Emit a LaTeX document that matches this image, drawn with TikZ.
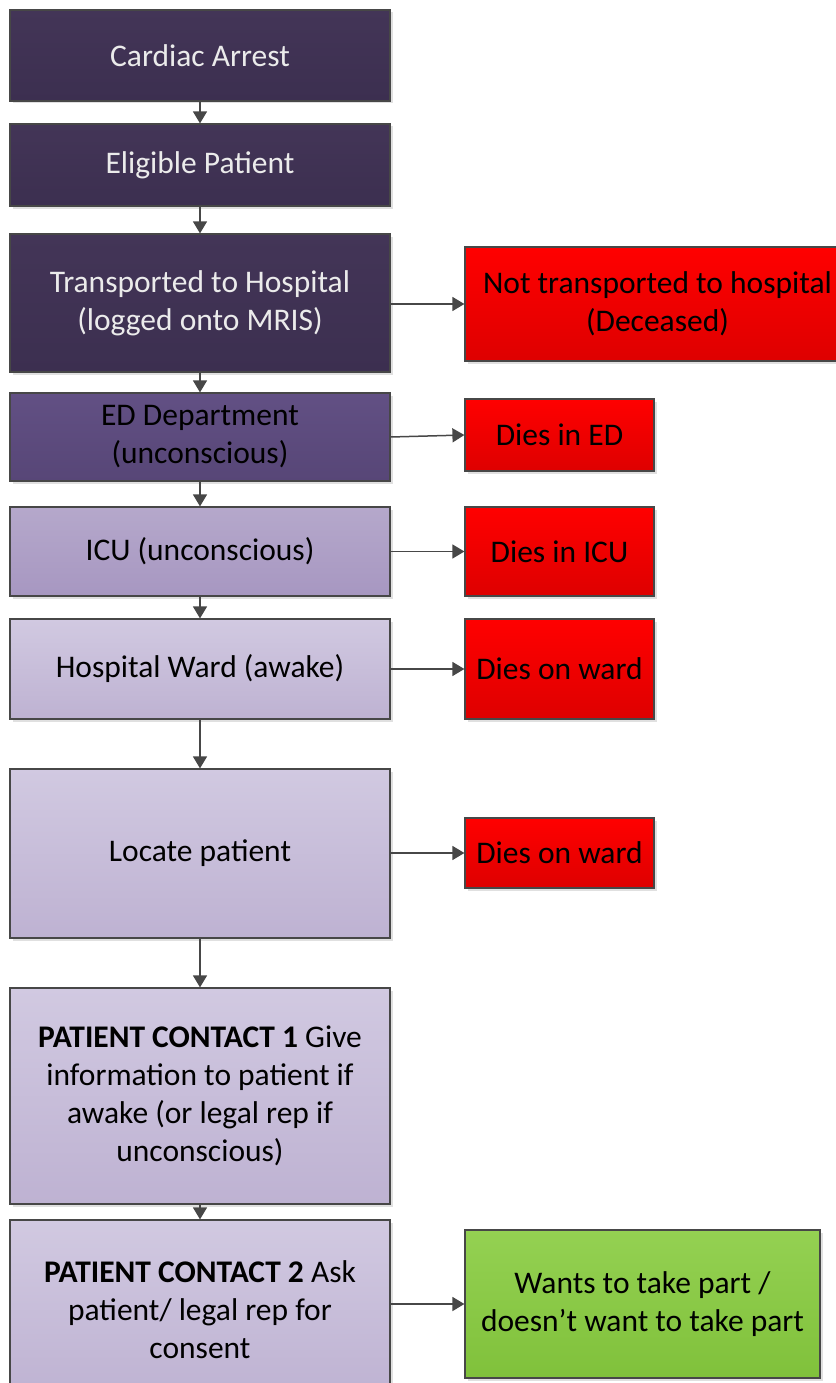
\documentclass[tikz,border=0pt]{standalone}
\usepackage{fontspec}
\setmainfont{Carlito}
\usetikzlibrary{arrows.meta, shadows}
\colorlet{box edge}{black!72}
\definecolor{deep top}{HTML}{433557}
\definecolor{deep bot}{HTML}{3C2F50}
\definecolor{mid top}{HTML}{625084}
\definecolor{mid bot}{HTML}{574677}
\definecolor{icu top}{HTML}{B5A8CB}
\definecolor{icu bot}{HTML}{A797C1}
\definecolor{pale top}{HTML}{D1C9E1}
\definecolor{pale bot}{HTML}{BEB2D2}
\definecolor{red top}{HTML}{FF0000}
\definecolor{red bot}{HTML}{DE0000}
\definecolor{green top}{HTML}{94D152}
\definecolor{green bot}{HTML}{80C13B}
\tikzset{
  box/.style={draw=box edge, line width=1.2pt, inner sep=4pt, align=center,
    font=\fontsize{31.5}{38}\selectfont,
    drop shadow={shadow xshift=2.5pt, shadow yshift=-2.5pt, fill=black!12, opacity=1}},
  stage/.style={box, minimum width=380pt},
  deep/.style={stage, top color=deep top, bottom color=deep bot, text=black!8},
  mid/.style={stage, top color=mid top, bottom color=mid bot},
  icu/.style={stage, top color=icu top, bottom color=icu bot},
  pale/.style={stage, top color=pale top, bottom color=pale bot},
  dead/.style={box, top color=red top, bottom color=red bot},
  choice/.style={box, top color=green top, bottom color=green bot},
  flow/.style={draw=black!72, line width=1.5pt, -{Triangle[width=14pt,length=12pt]}}
}

\begin{document}
\begin{tikzpicture}[x=1pt, y=-1pt]
  \useasboundingbox (0,0) rectangle (835,1383);
  % main column
  \node[deep, minimum height=91pt]  (ca)  at (200,55.5) {Cardiac Arrest};
  \node[deep, minimum height=82pt]  (ep)  at (200,165)  {Eligible Patient};
  \node[deep, minimum height=138pt] (th)  at (200,303)  {Transported to Hospital\\(logged onto MRIS)};
  \node[mid, minimum height=88pt]   (ed)  at (200,437)  {ED Department\\(unconscious)};
  \node[icu, minimum height=89pt]   (icu) at (200,551.5) {ICU (unconscious)};
  \node[pale, minimum height=100pt] (hw)  at (200,669)  {Hospital Ward (awake)};
  \node[pale, minimum height=169pt] (lp)  at (200,853.5) {Locate patient};
  \node[pale, minimum height=216pt] (pc1) at (200,1096) {\textbf{PATIENT CONTACT 1} Give\\information to patient if\\awake (or legal rep if\\unconscious)};
  \node[pale, minimum height=180pt] (pc2) at (200,1310) {\textbf{PATIENT CONTACT 2} Ask\\patient/ legal rep for\\consent};
  % outcomes
  \node[dead, minimum width=385pt, minimum height=114pt] (nt)   at (657.5,304) {Not transported to hospital\\(Deceased)};
  \node[dead, minimum width=189pt, minimum height=72pt]  (ded)  at (559.5,435) {Dies in ED};
  \node[dead, minimum width=189pt, minimum height=89pt]  (dicu) at (559.5,551.5) {Dies in ICU};
  \node[dead, minimum width=189pt, minimum height=100pt] (dw)   at (559.5,669) {Dies on ward};
  \node[dead, minimum width=189pt, minimum height=70pt]  (dlp)  at (559.5,853) {Dies on ward};
  \node[choice, minimum width=355pt, minimum height=148pt] (want) at (642.5,1304) {Wants to take part /\\doesn’t want to take part};
  % connectors
  \foreach \a/\b in {ca/ep, ep/th, th/ed, ed/icu, icu/hw, hw/lp, lp/pc1, pc1/pc2}
    \draw[flow] (\a.south) -- (\b.north);
  \draw[flow] (ed.east) -- (ded.west);
  \foreach \a/\b in {th/nt, icu/dicu, hw/dw, lp/dlp, pc2/want}
    \draw[flow] (\a.east |- \b.west) -- (\b.west);
\end{tikzpicture}
\end{document}
